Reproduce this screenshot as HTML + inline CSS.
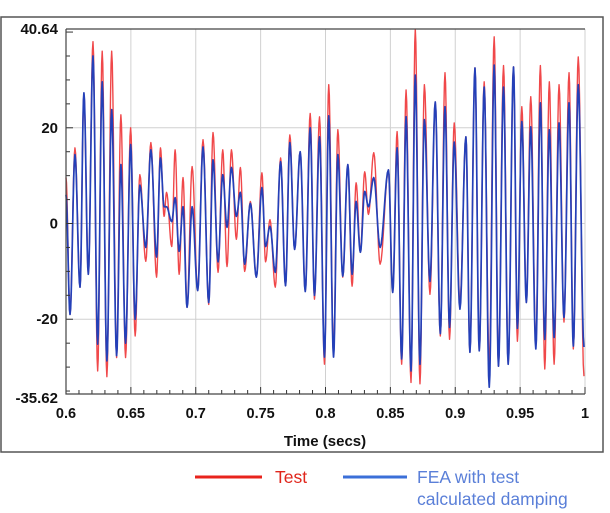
<!DOCTYPE html>
<html><head><meta charset="utf-8"><style>
body{margin:0;background:#fff;}
svg{display:block;font-family:"Liberation Sans",sans-serif;}
</style></head><body>
<svg width="610" height="513" viewBox="0 0 610 513">
<rect x="1" y="17" width="602" height="435" fill="#fff" stroke="#555" stroke-width="1.5"/>
<g id="grid"></g>
<g id="series"></g>
<g id="axes"></g>
<text x="325" y="446" text-anchor="middle" font-size="15" font-weight="bold" fill="#111">Time (secs)</text>
<g>
<line x1="195" y1="477" x2="262" y2="477" stroke="#e8231c" stroke-width="3"/>
<text x="275" y="483" font-size="17.5" fill="#e0261c">Test</text>
<line x1="343" y1="477" x2="407" y2="477" stroke="#3b6fd8" stroke-width="3"/>
<text x="417" y="483" font-size="17.5" fill="#5a7fd8">FEA with test</text>
<text x="417" y="505" font-size="17.5" fill="#5a7fd8">calculated damping</text>
</g>
</svg>
<script>
const times=[0.6,.6031,.6069,.6108,.6138,.6172,.6208,.6244,.6279,.6315,.6352,.6390,.6423,.6459,.6498,.6533,.6569,.6615,.6654,.6698,.6728,.6756,.6775,.6815,.6841,.6872,.6902,.6933,.6972,.7015,.7056,.7100,.7133,.7172,.7208,.7241,.7275,.7313,.7344,.7377,.7421,.7467,.7510,.7538,.7572,.7613,.7654,.7692,.7725,.7762,.7805,.7844,.7882,.7915,.7954,.7992,.8025,.8062,.8095,.8133,.8172,.8205,.8236,.8269,.8302,.8331,.8372,.8421,.8485,.8518,.8552,.8587,.8621,.8659,.8692,.8728,.8762,.8805,.8846,.8885,.8921,.8956,.8992,.9036,.9082,.9113,.9152,.9185,.9223,.9262,.9300,.9333,.9372,.9408,.9449,.9479,.9513,.9548,.9582,.9621,.9656,.9690,.9725,.9762,.9800,.9838,.9877,.9910,.9948,.9992];
const testValues=[9.6,-19,15.8,-13.3,27,-10.6,38,-30.8,36,-32,36,-28,22.7,-28,20,-23.5,10.2,-7.9,16.9,-11.2,15.8,1.5,6.5,-4.8,15.4,-10.6,9.6,-17.5,11.9,-14,17.5,-16.9,19,-10.2,15.4,-9,15.4,-3.3,11.7,-10,4.6,-11.2,10.6,-8,0.8,-13.3,13.7,-13,18.5,-5.4,15,-14.2,23,-15.8,22.3,-29.4,29,-27.3,19.6,-11.2,12.3,-13.1,8.5,-6,10.8,1.9,14.8,-8.5,11.2,-14.4,19.2,-29.4,27.9,-33.2,40.6,-33.5,29,-14.8,25.4,-23.5,31.5,-24.2,21,-16.5,18.1,-26.9,32.5,-26.6,29.6,-29.4,39,-29.8,33,-29.4,32.7,-24.6,24.4,-16.5,26.5,-25.2,33,-30.4,29.6,-29.4,29,-20.6,31.5,-26.2,34.8,-31.9];
const feaValues=[6,-19,14.4,-13.3,27.3,-10.6,35,-25.2,29.6,-28.7,23.8,-27.6,12.3,-25,16.5,-20,8,-5,15.4,-7,13.7,3.5,3.5,0.4,5.4,-5.8,3.5,-17.5,3.5,-14,16,-16.5,13.3,-8,10.2,-0.8,11.7,1.5,6.5,-8.5,4.2,-11.2,7.5,-4.8,-0.6,-10.2,12.9,-13,16.9,-5.4,15,-14.2,20,-15,18.1,-27.9,22.5,-27.9,14.4,-11,12.3,-10.6,4.6,-6,6.7,3.5,9.6,-5,11.2,-14.4,15.8,-28.3,22.3,-30.8,31,-29.4,21.7,-12.1,25.4,-23,24.4,-21.7,17,-17.9,18.1,-26.9,32.5,-26.6,28.5,-34.2,33.1,-29.8,28.5,-29.4,32.7,-21.9,21.3,-16.5,20.2,-26.2,25.2,-24.2,19.6,-23.8,21,-19.6,25.2,-25.6,29,-25.8];
const xTicks=[0.6,0.65,0.7,0.75,0.8,0.85,0.9,0.95,1];
const xTickLabels=["0.6","0.65","0.7","0.75","0.8","0.85","0.9","0.95","1"];
const yTicks=[40.64,20,0,-20,-35.62];
const yTickLabels=["40.64","20","0","-20","-35.62"];

const X0=66,X1=585,Y0=394,Y1=29,xMin=0.6,xMax=1,yMin=-35.62,yMax=40.64;
const sx=t=>X0+(t-xMin)/(xMax-xMin)*(X1-X0);
const sy=v=>Y0-(v-yMin)/(yMax-yMin)*(Y0-Y1);
const NS="http://www.w3.org/2000/svg";
function mk(tag,attrs,parent){const e=document.createElementNS(NS,tag);for(const k in attrs)e.setAttribute(k,attrs[k]);parent.appendChild(e);return e;}
const grid=document.getElementById('grid'),axes=document.getElementById('axes'),series=document.getElementById('series');

xTicks.forEach((t,i)=>{
  const g=mk('line',{x1:sx(t),x2:sx(t),y1:Y1,y2:Y0,stroke:'#d0d0d0','stroke-width':1},grid);
  
  
  const lb=mk('text',{x:sx(t),y:418,'text-anchor':'middle','font-size':14.5,'font-weight':'bold',fill:'#111'},axes);
  lb.textContent=xTickLabels[i];
  
  
});
yTicks.forEach((v,i)=>{
  if(i>0&&i<yTicks.length-1){
    const g=mk('line',{x1:X0,x2:X1,y1:sy(v),y2:sy(v),stroke:'#d0d0d0','stroke-width':1},grid);
    
    
  }
  const lb=mk('text',{x:58,y:sy(v)+(i==yTicks.length-1?9:5),'text-anchor':'end','font-size':15,'font-weight':'bold',fill:'#111'},axes);
  lb.textContent=yTickLabels[i];
  
  
});
for(let t=0.6;t<1.0001;t+=0.01){
  const major=Math.abs(Math.round(t*20)-t*20)<1e-6;
  const tk=mk('line',{x1:sx(t),x2:sx(t),y1:Y0,y2:Y0-(major?7:4),stroke:'#333','stroke-width':1},axes);
  
  
}
for(let v=-35;v<=40;v+=5){
  const tk=mk('line',{x1:X0,x2:X0+(v%20==0?7:4),y1:sy(v),y2:sy(v),stroke:'#333','stroke-width':1},axes);
  
  
}
const ax=mk('path',{d:`M${X0},${Y1}H${X1}M${X0},${Y1}V${Y0}H${X1}`,stroke:'#444','stroke-width':1.2,fill:'none'},axes);



function pathFor(vals){
  let d=`M${sx(times[0])},${sy(vals[0])}`;
  for(let i=1;i<times.length;i++){
    const t0=times[i-1],t1=times[i],v0=vals[i-1],v1=vals[i];
    for(let k=1;k<=8;k++){
      const f=k/8,s=(1-Math.cos(Math.PI*f))/2;
      d+=`L${sx(t0+(t1-t0)*f).toFixed(2)},${sy(v0+(v1-v0)*s).toFixed(2)}`;
    }
  }
  return d;
}
const red=mk('path',{d:pathFor(testValues),stroke:'#f0484a','stroke-width':1.4,fill:'none','stroke-linejoin':'round'},series);


const blue=mk('path',{d:pathFor(feaValues),stroke:'#2440b8','stroke-width':1.7,fill:'none','stroke-linejoin':'round'},series);


</script>
</body></html>
